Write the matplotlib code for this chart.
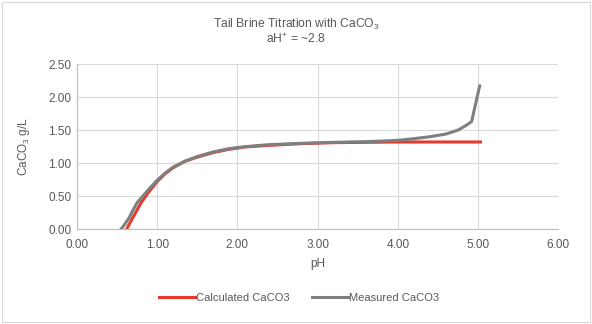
import matplotlib
matplotlib.use("Agg")
import matplotlib.pyplot as plt

calc_ph = [0.62, 0.65, 0.70, 0.75, 0.80, 0.90, 1.00, 1.10, 1.20, 1.35, 1.50, 1.70, 1.90,
           2.10, 2.40, 2.80, 3.20, 3.60, 4.00, 4.50, 5.03]
calc_caco3 = [0.00, 0.07, 0.18, 0.29, 0.40, 0.57, 0.72, 0.84, 0.93, 1.03, 1.09, 1.16, 1.21,
              1.245, 1.27, 1.295, 1.31, 1.315, 1.32, 1.32, 1.32]

meas_ph = [0.55, 0.60, 0.65, 0.70, 0.75, 0.80, 0.90, 1.00, 1.10, 1.20, 1.35, 1.50, 1.70,
           1.90, 2.10, 2.40, 2.80, 3.20, 3.60, 4.00, 4.20, 4.40, 4.60, 4.75, 4.85, 4.92,
           4.97, 5.02]
meas_caco3 = [0.00, 0.08, 0.17, 0.29, 0.40, 0.47, 0.61, 0.74, 0.85, 0.94, 1.03, 1.10, 1.17,
              1.22, 1.25, 1.28, 1.30, 1.315, 1.325, 1.345, 1.37, 1.40, 1.44, 1.50, 1.57,
              1.63, 1.90, 2.17]

xticks = [0, 1, 2, 3, 4, 5, 6]
yticks = [0, 0.5, 1.0, 1.5, 2.0, 2.5]

plt.rcParams['font.family'] = ['Liberation Sans', 'DejaVu Sans']
plt.rcParams['mathtext.fontset'] = 'custom'
plt.rcParams['mathtext.rm'] = 'Liberation Sans'
txt = '#595959'
grid = '#d9d9d9'

fig = plt.figure(figsize=(5.92, 3.24), dpi=100)
ax = fig.add_axes([0.130, 0.293, 0.813, 0.509])

ax.plot(calc_ph, calc_caco3, color='#e8392c', lw=2.2, label='Calculated CaCO3', zorder=3)
ax.plot(meas_ph, meas_caco3, color='#7f7f7f', lw=2.2, label='Measured CaCO3', zorder=4)

ax.set_xlim(0, 6)
ax.set_ylim(0, 2.5)
ax.set_xticks(xticks)
ax.set_yticks(yticks)
ax.set_xticklabels([f"{v:.2f}" for v in xticks])
ax.set_yticklabels([f"{v:.2f}" for v in yticks])
ax.grid(True, color=grid, lw=0.8)
ax.set_axisbelow(True)
for s in ['top', 'right']:
    ax.spines[s].set_visible(False)
for s in ['left', 'bottom']:
    ax.spines[s].set_color('#bfbfbf')
    ax.spines[s].set_linewidth(0.8)
ax.tick_params(axis='x', length=0, labelsize=8.5, colors=txt, pad=7)
ax.tick_params(axis='y', length=0, labelsize=8.5, colors=txt, pad=4)

ax.set_xlabel('pH', fontsize=8.5, color=txt, labelpad=5)
ax.set_ylabel(r'CaCO$_\mathregular{3}$ g/L', fontsize=8.5, color=txt, labelpad=12)

fig.text(0.5, 0.925, r'Tail Brine Titration with CaCO$_\mathregular{3}$', ha='center',
         va='center', fontsize=8.7, color=txt)
fig.text(0.5, 0.88, r'aH$^\mathregular{+}$ = ~2.8', ha='center', va='center',
         fontsize=8.7, color=txt)

leg = fig.legend(loc='center', bbox_to_anchor=(0.505, 0.08), ncol=2, frameon=False,
                 fontsize=8, handlelength=3.3, handletextpad=0.05, columnspacing=2.0)
for t in leg.get_texts():
    t.set_color(txt)

fig.patches.append(plt.Rectangle((0.003, 0.005), 0.994, 0.99, transform=fig.transFigure,
                                 fill=False, edgecolor='#d9d9d9', lw=0.8))

fig.savefig('out.png', dpi=100)
